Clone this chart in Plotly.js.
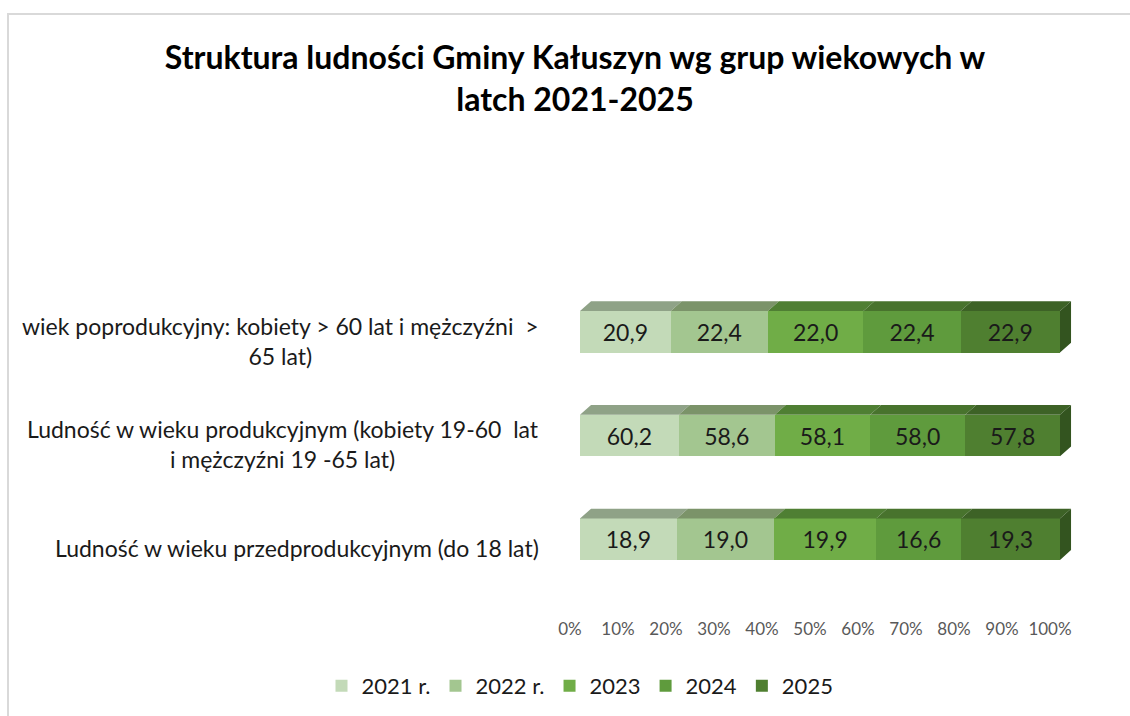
<!DOCTYPE html>
<html>
<head>
<meta charset="utf-8">
<script src="https://cdn.plot.ly/plotly-3.0.1.min.js"></script>
<style>
  html, body { margin: 0; padding: 0; background: #fff; }
  #chart { width: 1130px; height: 716px; position: absolute; left: 0; top: 0; }
  #frame { position: absolute; left: 7px; top: 13px; width: 1130px; height: 710px;
           border-top: 2px solid #d9d9d9; border-left: 2px solid #d9d9d9; pointer-events: none; }
</style>
</head>
<body>
<div id="chart"></div>
<div id="frame"></div>
<script>
// ---- data ----
const categories = [
  'Ludność w wieku przedprodukcyjnym (do 18 lat)',
  'Ludność w wieku produkcyjnym (kobiety 19-60  lat<br>i mężczyźni 19 -65 lat)',
  'wiek poprodukcyjny: kobiety > 60 lat i mężczyźni  ><br>65 lat)'
];
const seriesNames = ['2021 r.', '2022 r.', '2023', '2024', '2025'];
const v2021 = [18.9, 60.2, 20.9];
const v2022 = [19.0, 58.6, 22.4];
const v2023 = [19.9, 58.1, 22.0];
const v2024 = [16.6, 58.0, 22.4];
const v2025 = [19.3, 57.8, 22.9];
const tickVals = [0, 10, 20, 30, 40, 50, 60, 70, 80, 90, 100];
const tickText = ['0%', '10%', '20%', '30%', '40%', '50%', '60%', '70%', '80%', '90%', '100%'];

// ---- style ----
const series = [v2021, v2022, v2023, v2024, v2025];
const frontColors = ['#c3dab8', '#a3c690', '#70ad47', '#5f9b3d', '#4f7f30'];
const topColors   = ['#8fa287', '#7b9369', '#4f7f33', '#48732d', '#3d6226'];
const sideColor = '#33541f';
const font = 'Lato, "Open Sans", "Liberation Sans", sans-serif';
const barW = 0.40;
const depthX = 2.3;   // axis units (x)
const depthY = 0.095; // axis units (y)

const yIdx = categories.map((_, i) => i);
const fmt = v => v.toFixed(1).replace('.', ',');

const traces = [];
series.forEach((vals, s) => {
  traces.push({
    type: 'bar', orientation: 'h', name: seriesNames[s],
    y: yIdx, x: vals, width: barW,
    marker: { color: frontColors[s], line: { width: 0 } },
    text: vals.map(fmt), textposition: 'inside', insidetextanchor: 'middle',
    textfont: { family: font, size: 23, color: '#1a1a1a' },
    hoverinfo: 'skip', cliponaxis: false
  });
});

// 3D top faces and right side, derived from normalised cumulative values
const totals = yIdx.map(i => series.reduce((a, arr) => a + arr[i], 0));
series.forEach((vals, s) => {
  const px = [], py = [];
  yIdx.forEach(i => {
    let start = 0;
    for (let k = 0; k < s; k++) start += series[k][i];
    const x0 = start / totals[i] * 100;
    const x1 = (start + vals[i]) / totals[i] * 100;
    const yt = i + barW / 2;
    px.push(x0, x1, x1 + depthX, x0 + depthX, x0, null);
    py.push(yt, yt, yt + depthY, yt + depthY, yt, null);
  });
  traces.push({
    type: 'scatter', mode: 'lines', x: px, y: py, fill: 'toself',
    fillcolor: topColors[s], line: { width: 0, color: topColors[s] },
    showlegend: false, hoverinfo: 'skip'
  });
});
{
  const px = [], py = [];
  yIdx.forEach(i => {
    const yt = i + barW / 2, yb = i - barW / 2;
    px.push(100, 100, 100 + depthX, 100 + depthX, 100, null);
    py.push(yb, yt, yt + depthY, yb + depthY, yb, null);
  });
  traces.push({
    type: 'scatter', mode: 'lines', x: px, y: py, fill: 'toself',
    fillcolor: sideColor, line: { width: 0, color: sideColor },
    showlegend: false, hoverinfo: 'skip'
  });
}
// invisible trace to hold the tick axis
traces.push({ type: 'scatter', x: [0, 100], y: [0, 0], xaxis: 'x2', yaxis: 'y',
  mode: 'markers', marker: { opacity: 0 }, showlegend: false, hoverinfo: 'skip' });

// layout geometry (pixels)
const mL = 10, mR = 10;
const W = 1130 - mL - mR;
const px2paper = p => (p - mL) / W;
const barL = 570, barR = 1075;       // area holding bars + depth
const pxPerUnit = 4.8;
const xMin = -(580 - barL) / pxPerUnit;
const xMax = xMin + (barR - barL) / pxPerUnit;

const annotations = categories.map((c, i) => ({
  text: c, xref: 'paper', yref: 'y', x: px2paper(541), y: i - 0.085,
  xanchor: 'right', yanchor: 'middle', align: 'center', showarrow: false,
  font: { family: font, size: 23, color: '#1a1a1a' }
}));

const layout = {
  width: 1130, height: 716,
  paper_bgcolor: '#ffffff', plot_bgcolor: 'rgba(0,0,0,0)',
  margin: { l: mL, r: mR, t: 280, b: 99, pad: 0 },
  barmode: 'stack', barnorm: 'percent',
  title: {
    text: 'Struktura ludności Gminy Kałuszyn wg grup wiekowych w<br>latch 2021-2025',
    font: { family: font, size: 32, color: '#000000', weight: 'bold' },
    x: 575 / 1130, xanchor: 'center', xref: 'container',
    y: 1 - 69 / 716, yanchor: 'middle', yref: 'container'
  },
  xaxis: { domain: [px2paper(barL), px2paper(barR)], range: [xMin, xMax],
    showticklabels: false, showgrid: false,
    zeroline: false, showline: false, ticks: '', fixedrange: true },
  xaxis2: { domain: [px2paper(570), px2paper(1050)], range: [0, 100], anchor: 'y',
    tickvals: tickVals, ticktext: tickText, showgrid: false, zeroline: false,
    showline: false, ticks: '', side: 'bottom',
    tickfont: { family: font, size: 17, color: '#595959' } },
  yaxis: { range: [-0.75, 2.5], showticklabels: false, showgrid: false,
    zeroline: false, showline: false, ticks: '', fixedrange: true },
  showlegend: true,
  legend: {
    orientation: 'h', xref: 'paper', yref: 'container',
    x: px2paper(580), xanchor: 'center', y: 1 - 686 / 716, yanchor: 'middle',
    font: { family: font, size: 22, color: '#1a1a1a' },
    itemwidth: 30, tracegroupgap: 0, traceorder: 'normal'
  },
  annotations: annotations,
  hovermode: false
};

Plotly.newPlot('chart', traces, layout, { displayModeBar: false, staticPlot: true });
</script>
</body>
</html>
